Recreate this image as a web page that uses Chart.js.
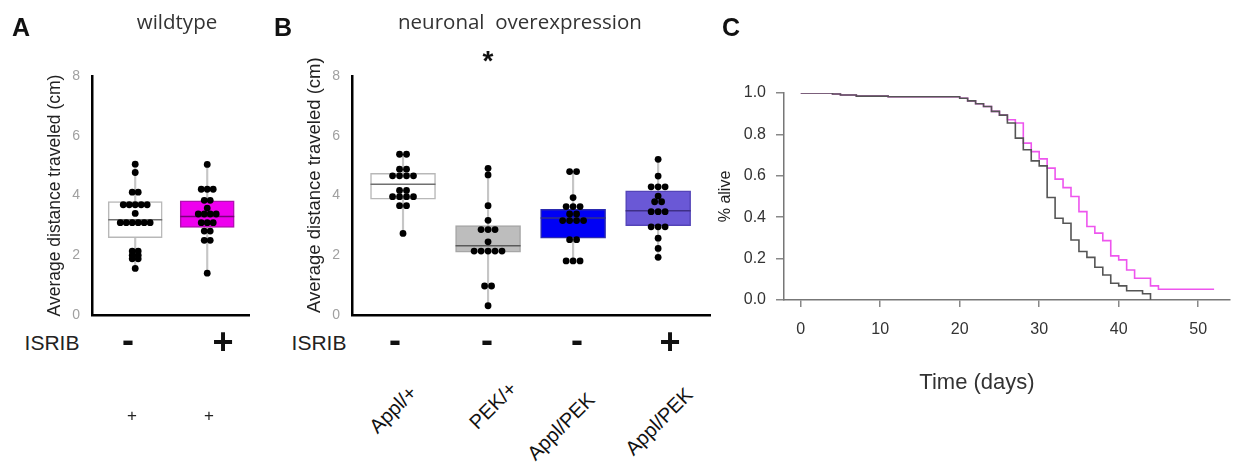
<!DOCTYPE html>
<html>
<head>
<meta charset="utf-8">
<title>ISRIB locomotion and survival</title>
<script src="https://cdn.jsdelivr.net/npm/chart.js@4.4.1/dist/chart.umd.min.js"></script>
<style>
  html, body { margin: 0; padding: 0; background: #fff; }
  body { position: relative; width: 1235px; height: 467px; overflow: hidden; font-family: "Liberation Sans", Arial, sans-serif; color: #111; }
  canvas { position: absolute; top: 0; }
  .t { position: absolute; white-space: pre; line-height: 1; transform: translate(-50%, -50%); }
  .panel { font-weight: bold; font-size: 25px; color: #111; }
  .title { font-family: "Open Sans", sans-serif; font-size: 20.5px; color: #333; }
  .isrib { font-size: 21px; color: #222; }
  .sign { font-size: 36px; font-weight: bold; color: #111; }
  .small { font-size: 17px; color: #222; }
  .geno { position: absolute; white-space: nowrap; line-height: 1; font-size: 20px; color: #111;
          transform-origin: 100% 50%; transform: translate(-100%, -50%) rotate(-45deg); }
</style>
</head>
<body>
<canvas id="chartA" width="260" height="330" style="left:0"></canvas>
<canvas id="chartB" width="452" height="330" style="left:260px"></canvas>
<canvas id="chartC" width="523" height="400" style="left:712px"></canvas>

<!-- panel A text -->
<div class="t panel" style="left:21px;top:27px">A</div>
<div class="t title" style="left:177px;top:21px">wildtype</div>
<div class="t isrib" style="left:52px;top:342px">ISRIB</div>
<div class="t sign" style="left:128px;top:340px">-</div>
<div class="t sign" style="left:223px;top:342px">+</div>
<div class="t small" style="left:132px;top:415px">+</div>
<div class="t small" style="left:209px;top:415px">+</div>

<!-- panel B text -->
<div class="t panel" style="left:283px;top:27px">B</div>
<div class="t title" style="left:520px;top:21px">neuronal  overexpression</div>
<div class="t" style="left:488px;top:61px;font-size:28px;font-weight:bold">*</div>
<div class="t isrib" style="left:319px;top:342px">ISRIB</div>
<div class="t sign" style="left:395px;top:340px">-</div>
<div class="t sign" style="left:487px;top:340px">-</div>
<div class="t sign" style="left:577px;top:340px">-</div>
<div class="t sign" style="left:670px;top:342px">+</div>
<div class="geno" style="left:413px;top:389px">Appl/+</div>
<div class="geno" style="left:513px;top:385px">PEK/+</div>
<div class="geno" style="left:591px;top:396px">Appl/PEK</div>
<div class="geno" style="left:689px;top:391px">Appl/PEK</div>

<!-- panel C text -->
<div class="t panel" style="left:731px;top:27px">C</div>
<div class="t" style="left:977px;top:382px;font-size:22px;color:#333">Time (days)</div>

<script>
// ---- panel A: wildtype, ISRIB - / + ----
const wtTreatment = ["ISRIB -", "ISRIB +"];
const wtMinusDots = [5.05, 4.77, 4.11, 4.11, 3.69, 3.69, 3.69, 3.69, 3.69, 3.40,
                     3.09, 3.09, 3.09, 3.09, 3.09, 3.09, 2.14, 2.14, 2.00, 2.00, 1.88, 1.88, 1.56];
const wtPlusDots = [5.04, 4.21, 4.21, 4.21, 3.84, 3.84, 3.58, 3.38, 3.38, 3.38, 3.38,
                    3.09, 3.09, 3.09, 2.81, 2.81, 2.50, 2.50, 1.40];
const wtQ1 = [2.59, 2.93];
const wtMedian = [3.19, 3.30];
const wtQ3 = [3.80, 3.82];
const wtLow = [1.56, 1.40];
const wtHigh = [5.05, 5.04];

// ---- panel B: neuronal overexpression ----
const genotypes = ["Appl/+", "PEK/+", "Appl/PEK", "Appl/PEK + ISRIB"];
const applDots = [5.38, 5.38, 4.88, 4.88, 4.66, 4.66, 4.66, 4.66, 4.17, 4.17,
                  3.96, 3.96, 3.96, 3.96, 3.66, 3.66, 2.73];
const pekDots = [4.91, 4.69, 3.66, 3.17, 2.86, 2.86, 2.86, 2.45, 2.14, 2.14, 2.14,
                 2.14, 2.14, 0.97, 0.97, 0.31];
const applPekDots = [4.80, 4.80, 3.93, 3.63, 3.63, 3.63, 3.38, 3.38, 3.16, 3.16,
                     3.16, 3.16, 2.52, 2.52, 1.81, 1.81, 1.81];
const applPekIsribDots = [5.21, 4.65, 4.29, 4.29, 4.29, 3.98, 3.79, 3.79, 3.46, 3.46,
                          3.46, 2.95, 2.95, 2.95, 2.57, 2.23, 1.93];
const bQ1 = [3.88, 2.10, 2.57, 2.99];
const bMedian = [4.38, 2.32, 3.25, 3.49];
const bQ3 = [4.74, 2.99, 3.54, 4.16];
const bLow = [2.73, 0.31, 1.81, 1.93];
const bHigh = [5.38, 4.91, 4.80, 5.21];

// ---- panel C: survival ----
const ctrlDays  = [0, 4, 5, 7, 11, 20, 21, 22, 23, 24, 25, 26, 27, 28, 29, 30, 31, 32,
                   33, 34, 35, 36, 37, 38, 39, 40, 41, 43, 44];
const ctrlAlive = [1.0, 0.995, 0.99, 0.985, 0.982, 0.975, 0.962, 0.948, 0.935, 0.911,
                   0.893, 0.855, 0.782, 0.726, 0.672, 0.648, 0.495, 0.395, 0.371, 0.29,
                   0.234, 0.206, 0.158, 0.121, 0.081, 0.068, 0.045, 0.03, 0.0];
const isribDays  = [0, 4, 5, 7, 11, 20, 21, 22, 23, 24, 25, 26, 27, 28, 29, 30, 31, 32,
                    33, 34, 35, 36, 37, 38, 39, 40, 41, 42, 44, 45, 52];
const isribAlive = [1.0, 0.995, 0.99, 0.985, 0.982, 0.975, 0.962, 0.948, 0.935, 0.911,
                    0.893, 0.871, 0.855, 0.758, 0.717, 0.682, 0.637, 0.584, 0.543, 0.5,
                    0.427, 0.355, 0.323, 0.287, 0.213, 0.194, 0.145, 0.105, 0.068, 0.052, 0.052];

Chart.defaults.font.family = '"Liberation Sans", Arial, sans-serif';

// spread equal values side by side, like a dot plot
function swarm(values, center, step) {
  const counts = {}, seen = {};
  values.forEach(v => { counts[v] = (counts[v] || 0) + 1; });
  return values.map(v => {
    seen[v] = seen[v] === undefined ? 0 : seen[v] + 1;
    return { x: center + (seen[v] - (counts[v] - 1) / 2) * step, y: v };
  });
}

function boxChart(id, cfg) {
  const centers = cfg.labels.map((_, i) => i + 1);
  let dots = [];
  cfg.dots.forEach((vals, i) => { dots = dots.concat(swarm(vals, centers[i], cfg.step)); });

  return new Chart(document.getElementById(id), {
    type: 'bar',
    data: {
      datasets: [
        { type: 'scatter', label: 'flies', data: dots, order: 0,
          pointRadius: 3.4, pointBackgroundColor: '#000', pointBorderWidth: 0 },
        { type: 'scatter', label: 'median', order: 1,
          data: centers.map((c, i) => ({ x: c, y: cfg.median[i] })),
          pointStyle: 'line', pointRadius: cfg.boxPx / 2,
          pointBorderColor: cfg.medColors, pointBorderWidth: 1.5 },
        { type: 'bar', label: 'IQR', order: 2, grouped: false,
          data: centers.map((c, i) => ({ x: c, y: [cfg.q1[i], cfg.q3[i]] })),
          backgroundColor: cfg.fills, borderColor: cfg.borders, borderWidth: 1.5,
          borderSkipped: false, barThickness: cfg.boxPx, maxBarThickness: cfg.boxPx,
          barPercentage: 1, categoryPercentage: 1 },
        { type: 'bar', label: 'range', order: 3, grouped: false,
          data: centers.map((c, i) => ({ x: c, y: [cfg.low[i], cfg.high[i]] })),
          backgroundColor: '#c6c6c6', borderWidth: 0,
          barThickness: 1.5, maxBarThickness: 1.5, barPercentage: 1, categoryPercentage: 1 }
      ]
    },
    options: {
      responsive: false,
      animation: false,
      events: [],
      layout: { autoPadding: false, padding: { left: cfg.padLeft, right: cfg.padRight, top: 76, bottom: 0 } },
      plugins: { legend: { display: false }, tooltip: { enabled: false } },
      scales: {
        x: {
          type: 'linear', min: cfg.xMin, max: cfg.xMax, offset: false,
          ticks: { display: false, stepSize: 1, includeBounds: false },
          grid: { display: false },
          border: { display: true, color: '#000', width: 2.5 },
          afterFit: s => { s.height = 15; }
        },
        y: {
          min: 0, max: 8,
          ticks: { stepSize: 2, color: '#a0a0a0', font: { size: 14 }, padding: 4 },
          grid: { display: false },
          border: { display: true, color: '#000', width: 2.5 },
          title: { display: true, text: cfg.yTitle, color: '#222',
                   font: { size: cfg.titleSize }, padding: 0 },
          afterFit: s => { s.width = 92 - cfg.padLeft; }
        }
      }
    }
  });
}

boxChart('chartA', {
  labels: wtTreatment,
  dots: [wtMinusDots, wtPlusDots],
  q1: wtQ1, median: wtMedian, q3: wtQ3, low: wtLow, high: wtHigh,
  fills: ['#ffffff', '#ee00ee'],
  borders: ['#b8b8b8', '#b010b0'],
  medColors: ['#707070', '#7a007a'],
  boxPx: 54, step: 0.083, xMin: 0.4, xMax: 2.58,
  padLeft: 45, padRight: 11, titleSize: 17.5,
  yTitle: 'Average distance traveled (cm)'
});

boxChart('chartB', {
  labels: genotypes,
  dots: [applDots, pekDots, applPekDots, applPekIsribDots],
  q1: bQ1, median: bMedian, q3: bQ3, low: bLow, high: bHigh,
  fills: ['#ffffff', '#bdbdbd', '#0000f5', '#6a58d6'],
  borders: ['#b8b8b8', '#a6a6a6', '#2a2ab0', '#5444b8'],
  medColors: ['#707070', '#5a5a5a', '#30308a', '#3e2f86'],
  boxPx: 65, step: 0.082, xMin: 0.4, xMax: 4.61,
  padLeft: 44, padRight: 2, titleSize: 18.5,
  // leading spaces nudge the centred title up, as in the figure
  yTitle: '    Average distance traveled (cm)'
});

const toXY = (xs, ys) => xs.map((x, i) => ({ x: x, y: ys[i] }));

new Chart(document.getElementById('chartC'), {
  type: 'line',
  data: {
    datasets: [
      { label: 'control', data: toXY(ctrlDays, ctrlAlive), order: 0,
        borderColor: '#555555', borderWidth: 1.6, stepped: 'before', pointRadius: 0, fill: false },
      { label: 'ISRIB', data: toXY(isribDays, isribAlive), order: 1,
        borderColor: '#ee55ee', borderWidth: 1.6, stepped: 'before', pointRadius: 0, fill: false }
    ]
  },
  options: {
    responsive: false,
    animation: false,
    events: [],
    layout: { autoPadding: false, padding: { left: 4, right: 5, top: 93, bottom: 0 } },
    plugins: { legend: { display: false }, tooltip: { enabled: false } },
    scales: {
      x: {
        type: 'linear', min: -2.1, max: 54,
        ticks: { stepSize: 10, includeBounds: false, color: '#333', font: { size: 16 },
                 padding: 13, maxRotation: 0 },
        grid: { display: true, drawOnChartArea: false, tickLength: 7, color: '#888', lineWidth: 1.5 },
        border: { display: true, color: '#777', width: 1.5 },
        afterFit: s => { s.height = 100; }
      },
      y: {
        min: 0, max: 1,
        ticks: { stepSize: 0.2, color: '#333', font: { size: 16 }, padding: 10,
                 callback: v => v.toFixed(1) },
        grid: { display: true, drawOnChartArea: false, tickLength: 8, color: '#888', lineWidth: 1.5 },
        border: { display: true, color: '#777', width: 1.5 },
        title: { display: true, text: '% alive', color: '#222', font: { size: 16 }, padding: 0 },
        afterFit: s => { s.width = 68; }
      }
    }
  }
});
</script>
</body>
</html>
